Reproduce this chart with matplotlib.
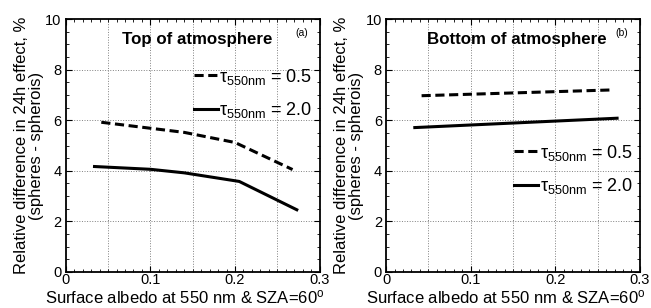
import matplotlib.pyplot as plt
from matplotlib.ticker import MultipleLocator, FuncFormatter

plt.rcParams['font.family'] = ['Liberation Sans', 'DejaVu Sans']
plt.rcParams['mathtext.fontset'] = 'custom'
plt.rcParams['mathtext.rm'] = 'Liberation Sans'
plt.rcParams['mathtext.it'] = 'Liberation Sans'

# panel (a): top of atmosphere
toa_x_05 = [0.042, 0.14, 0.20, 0.268]
toa_y_05 = [5.92, 5.52, 5.12, 4.05]
toa_x_20 = [0.034, 0.10, 0.14, 0.205, 0.273]
toa_y_20 = [4.17, 4.06, 3.92, 3.58, 2.46]

# panel (b): bottom of atmosphere
boa_x_05 = [0.042, 0.268]
boa_y_05 = [6.97, 7.20]
boa_x_20 = [0.034, 0.273]
boa_y_20 = [5.71, 6.08]

labels = [r'$\tau_{\mathrm{550nm}}$ = 0.5', r'$\tau_{\mathrm{550nm}}$ = 2.0']
titles = ['Top of atmosphere', 'Bottom of atmosphere']
tags = ['(a)', '(b)']

fig = plt.figure(figsize=(6.51, 3.08), dpi=100)
ax1 = fig.add_axes([0.101, 0.117, 0.39, 0.821])
ax2 = fig.add_axes([0.593, 0.117, 0.39, 0.821])

panels = [(ax1, toa_x_05, toa_y_05, toa_x_20, toa_y_20, (1.0, 0.84)),
          (ax2, boa_x_05, boa_y_05, boa_x_20, boa_y_20, (1.0, 0.54))]

for i, (ax, x1, y1, x2, y2, legpos) in enumerate(panels):
    ax.plot(x1, y1, color='black', lw=2.2, ls=(0, (3, 1.5)), label=labels[0])
    ax.plot(x2, y2, color='black', lw=2.2, ls='-', label=labels[1])
    ax.set_xlim(0, 0.3)
    ax.set_ylim(0, 10)
    ax.xaxis.set_major_locator(MultipleLocator(0.1))
    ax.xaxis.set_minor_locator(MultipleLocator(0.01))
    ax.yaxis.set_major_locator(MultipleLocator(2))
    ax.yaxis.set_minor_locator(MultipleLocator(0.5))
    ax.xaxis.set_major_formatter(FuncFormatter(lambda v, p: f'{v:.1f}'.rstrip('0').rstrip('.') if v else '0'))
    ax.tick_params(which='both', direction='in', top=True, right=True, labelsize=10.5)
    ax.tick_params(axis='x', pad=1)
    ax.tick_params(axis='y', pad=3)
    ax.tick_params(which='major', length=4)
    ax.tick_params(which='minor', length=2.5)
    for g in [0.05, 0.1, 0.15, 0.2, 0.25]:
        ax.axvline(g, color='gray', ls=':', lw=0.7, zorder=0)
    for g in [2, 4, 6, 8]:
        ax.axhline(g, color='gray', ls=':', lw=0.7, zorder=0)
    for s in ax.spines.values():
        s.set_linewidth(1.3)
    ax.set_xlabel('Surface albedo at 550 nm & SZA=60$^{\\mathrm{o}}$', fontsize=12, labelpad=-1)
    ax.xaxis.set_label_coords(0.47, -0.065, transform=ax.transAxes)
    ax.xaxis.label.set_va('top')
    ax.set_ylabel('Relative difference in 24h effect, %\n(spheres - spherois)', fontsize=12,
                  labelpad=1, linespacing=1.0)
    ax.text(0.155, 9.18, titles[i], ha='center', va='center', fontsize=12.2, fontweight='bold')
    ax.text(0.279, 9.45, tags[i], ha='center', va='center', fontsize=7.5)
    ax.legend(loc='upper right', bbox_to_anchor=legpos, frameon=False, fontsize=13,
              handlelength=1.3, handletextpad=0.1, labelspacing=0.75, borderaxespad=0)

fig.savefig('out.png', dpi=100)
